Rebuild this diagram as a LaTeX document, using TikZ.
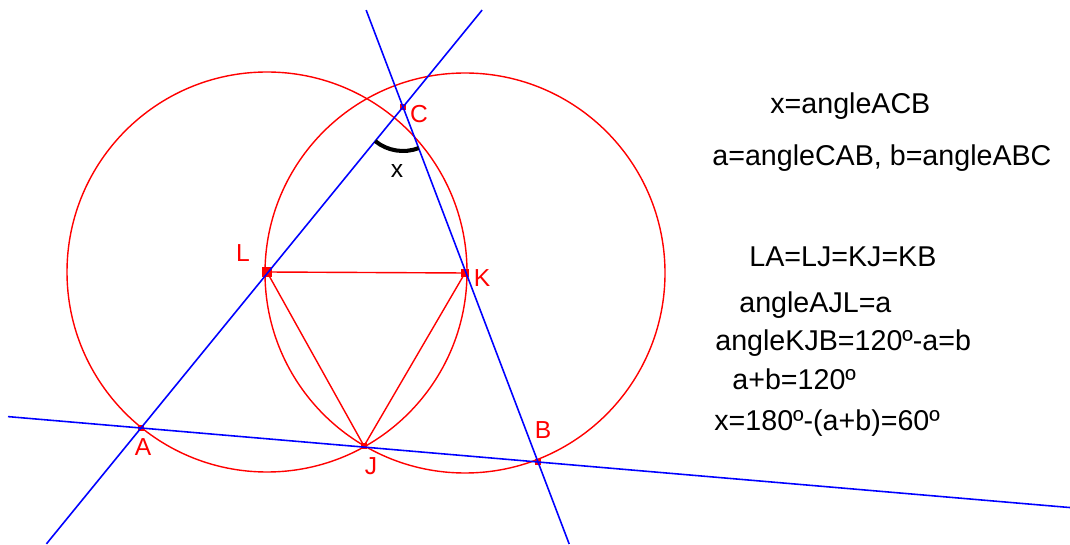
\documentclass[tikz,border=0pt]{standalone}
\usepackage{fontspec}
\setmainfont{Liberation Sans}
\usepackage{tikz}
\usetikzlibrary{calc}
\definecolor{rojo}{HTML}{FF0000}
\definecolor{azul}{HTML}{0000FF}
\tikzset{
  punto/.style={rectangle,fill=rojo,inner sep=0pt,minimum size=#1},
  punto/.default=3pt,
  recta/.style={azul,line width=0.9pt},
  circulo/.style={rojo,line width=0.8pt},
  segmento/.style={rojo,line width=0.8pt},
  angulo/.style={black,line width=2.3pt},
  etiqueta/.style={text=rojo,font=\fontsize{14}{16}\selectfont,inner sep=0pt},
  texto/.style={anchor=base west,font=\fontsize{16.3}{19}\selectfont,inner sep=0pt},
}

\begin{document}
\begin{tikzpicture}[x=0.02cm,y=0.02cm]
  \useasboundingbox (0,0) rectangle (1070,544);
  % puntos
  \node[punto] (A) at (141,116) {};
  \node[punto] (J) at (364,98) {};
  \node[punto] (B) at (538,82) {};
  \node[punto=5.5pt] (L) at (267,272) {};
  \node[punto=5pt] (K) at (465,271) {};
  \node[punto=3.5pt] (C) at (403,437) {};
  % rectas
  \coordinate (a1) at ($(A)!-0.361!(C)$);
  \coordinate (a2) at ($(A)!1.302!(C)$);
  \coordinate (b1) at ($(B)!-0.231!(C)$);
  \coordinate (b2) at ($(B)!1.273!(C)$);
  \coordinate (c1) at ($(A)!-0.335!(B)$);
  \coordinate (c2) at ($(A)!2.34!(B)$);
  \draw[circulo] (L.center) circle[radius=200];
  \draw[circulo] (K.center) circle[radius=200];
  \draw[segmento] (L.center) -- (K.center) -- (J.center) -- (L.center);
  \draw[recta] (a1) -- (a2);
  \draw[recta] (b1) -- (b2);
  \draw[recta] (c1) -- (c2);
  \draw[angulo] ([shift={(230.8:44)}]C.center) arc[start angle=230.8,end angle=290.8,radius=44];
  % etiquetas
  \node[etiqueta] (lC) at (419,430) {C};
  \node[etiqueta] (lL) at (243,291) {L};
  \node[etiqueta] (lK) at (482,266) {K};
  \node[etiqueta] (lA) at (143,97) {A};
  \node[etiqueta] (lJ) at (371,78) {J};
  \node[etiqueta] (lB) at (543,114) {B};
  \node[etiqueta,text=black] (lx) at (397,373) {x};
  % texto
  \node[texto] (t1) at (770,430) {x=angleACB};
  \node[texto] (t2) at (712,378) {a=angleCAB, b=angleABC};
  \node[texto] (t3) at (749,277) {LA=LJ=KJ=KB};
  \node[texto] (t4) at (739,231) {angleAJL=a};
  \node[texto] (t5) at (715,193) {angleKJB=120º-a=b};
  \node[texto] (t6) at (732,154) {a+b=120º};
  \node[texto] (t7) at (714,113) {x=180º-(a+b)=60º};
\end{tikzpicture}
\end{document}
